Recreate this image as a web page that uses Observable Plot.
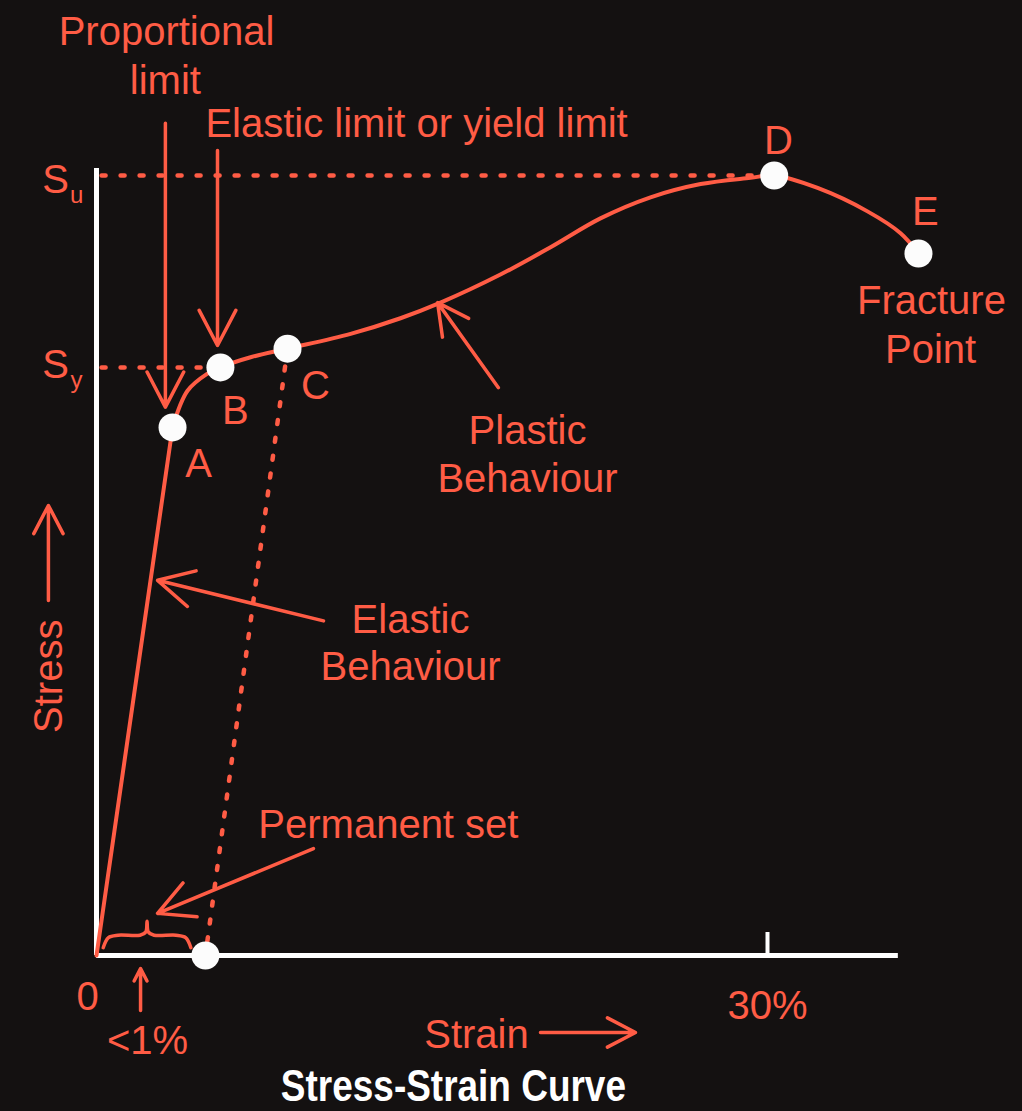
<!DOCTYPE html>
<html>
<head>
<meta charset="utf-8">
<script src="https://cdn.jsdelivr.net/npm/d3@7"></script>
<script src="https://cdn.jsdelivr.net/npm/@observablehq/plot@0.6"></script>
<style>
  html, body { margin: 0; padding: 0; background: #141111; }
  #chart svg { display: block; }
  .title {
    width: 1022px; height: 50px; line-height: 48px; box-sizing: border-box;
    padding-right: 116px; text-align: center; overflow: visible;
    font: bold 44px "Liberation Sans", Arial, sans-serif; color: #fff;
  }
  .title span { display: inline-block; transform: scaleX(0.84); }
</style>
</head>
<body>
<div id="chart"></div>
<div class="title"><span>Stress-Strain Curve</span></div>
<script>
// Stress (normalised so that the ultimate strength Su = 100) against strain in %.
const curveStrain = [0, 3.40, 4.07, 4.96, 5.54, 6.89, 8.54, 11.36, 13.59, 15.38, 18.06, 20.30, 22.53, 24.77, 27.01, 29.24, 30.3, 32.24, 34.47, 35.95, 36.75];
const curveStress = [0, 67.7, 72.4, 74.6, 75.4, 76.7, 77.8, 79.7, 81.7, 83.7, 87.3, 90.8, 94.5, 97.2, 98.9, 99.7, 100, 98.4, 95.4, 92.6, 90.0];

// Named points on the curve
const pointNames  = ["A", "B", "C", "D", "E"];
const pointStrain = [3.40, 5.54, 8.54, 30.3, 36.75];
const pointStress = [67.7, 75.4, 77.8, 100, 90.0];

const yieldStress = 75.4;     // Sy
const ultimateStress = 100;   // Su
const permanentSet = 4.87;    // strain left after unloading from C
const strainTicks = [30];
const strainTickLabels = ["30%"];
const axisMaxStrain = 35.85;
const axisMaxStress = 100.9;

const RED = "#ff5c45";
const FONT = "Liberation Sans, Arial, Helvetica, sans-serif";

const curve = curveStrain.map((x, i) => ({x, y: curveStress[i]}));
const elastic = curve.slice(0, 2);
const plastic = curve.slice(1);
const points = pointNames.map((name, i) => ({name, x: pointStrain[i], y: pointStress[i]}));
const P = Object.fromEntries(points.map(d => [d.name, d]));

// curly brace spanning the permanent set along the strain axis
function brace(x0, x1, yb) {
  const w = x1 - x0;
  const shape = [[0, 0], [0.06, 1.3], [0.17, 1.6], [0.42, 1.6], [0.485, 2.0], [0.5, 3.4], [0.515, 2.0], [0.58, 1.6], [0.83, 1.6], [0.94, 1.3], [1, 0]];
  return shape.map(([t, h]) => ({x: x0 + t * w, y: yb + h}));
}
const braceData = brace(0.3, permanentSet - 0.65, 1.0);

// annotation arrows, in strain/stress units
const arrows = [
  {x1: 3.08, y1: 106.7, x2: 3.08, y2: 70.3},   // proportional limit
  {x1: 5.41, y1: 103.2, x2: 5.41, y2: 78.2},   // elastic limit
  {x1: 17.97, y1: 72.8, x2: 15.25, y2: 83.7},  // plastic behaviour
  {x1: 10.15, y1: 42.9, x2: 2.73, y2: 48.1},   // elastic behaviour
  {x1: 9.70, y1: 13.7, x2: 2.73, y2: 5.4},     // permanent set
  {x1: 1.97, y1: -7.05, x2: 1.97, y2: -1.67},  // <1%
  {x1: -2.15, y1: 45.5, x2: -2.15, y2: 57.7},  // stress direction
  {x1: 19.85, y1: -9.87, x2: 24.10, y2: -9.87} // strain direction
];

// centred text labels; the anchor point is the baseline
const labels = [
  {text: "Proportional", x: 3.13, y: 116.7},
  {text: "limit", x: 3.08, y: 110.5},
  {text: "D", x: 30.49, y: 102.8},
  {text: "E", x: 37.06, y: 93.6},
  {text: "Fracture", x: 37.33, y: 82.3},
  {text: "Point", x: 37.29, y: 76.0},
  {text: "A", x: 4.56, y: 61.3},
  {text: "B", x: 6.21, y: 68.2},
  {text: "C", x: 9.79, y: 71.4},
  {text: "S", x: -1.83, y: 97.8},
  {text: "S", x: -1.83, y: 74.0},
  {text: "Elastic", x: 14.04, y: 41.3},
  {text: "Behaviour", x: 14.04, y: 35.3},
  {text: "Plastic", x: 19.27, y: 65.6},
  {text: "Behaviour", x: 19.27, y: 59.4},
  {text: "Permanent set", x: 13.05, y: 15.1},
  {text: "0", x: -0.40, y: -7.05},
  {text: "<1%", x: 2.28, y: -12.6},
  {text: "Strain", x: 16.99, y: -11.8}
];
// left-aligned label
const startLabels = [
  {text: "Elastic limit or yield limit", x: 4.87, y: 104.9}
];
const subscripts = [
  {text: "u", x: -0.89, y: 96.5},
  {text: "y", x: -0.89, y: 72.8}
];

const chart = Plot.plot({
  width: 1022,
  height: 1061,
  marginLeft: 96,
  marginRight: 120.8,
  marginTop: 175,
  marginBottom: 106,
  x: {domain: [0, 36], axis: null},
  y: {domain: [0, 100], axis: null},
  style: {background: "transparent", color: RED, fontFamily: FONT},
  marks: [
    // axes
    Plot.ruleX([0], {y1: 0, y2: axisMaxStress, stroke: "#fff", strokeWidth: 5}),
    Plot.ruleY([0], {x1: 0, x2: axisMaxStrain, stroke: "#fff", strokeWidth: 5}),
    Plot.ruleX(strainTicks, {y1: 0, y2: 2.95, stroke: "#fff", strokeWidth: 4}),
    Plot.text(strainTicks, {x: d => d, y: -8.1, text: (d, i) => strainTickLabels[i], fill: RED, fontSize: 40, lineAnchor: "bottom"}),
    // Su and Sy guides
    Plot.ruleY([ultimateStress], {x1: 0.25, x2: P.D.x, stroke: RED, strokeWidth: 4.5, strokeDasharray: "4,15", strokeLinecap: "round"}),
    Plot.ruleY([yieldStress], {x1: 0.25, x2: P.B.x, stroke: RED, strokeWidth: 4.5, strokeDasharray: "4,15", strokeLinecap: "round"}),
    // unloading line from C, parallel to the elastic line
    Plot.link([P.C], {x1: "x", y1: "y", x2: permanentSet, y2: 0, stroke: RED, strokeWidth: 4.5, strokeDasharray: "4,14", strokeLinecap: "round"}),
    // the curve
    Plot.line(elastic, {x: "x", y: "y", stroke: RED, strokeWidth: 4}),
    Plot.line(plastic, {x: "x", y: "y", stroke: RED, strokeWidth: 4, curve: "catmull-rom"}),
    // brace marking the permanent set
    Plot.line(braceData, {x: "x", y: "y", stroke: RED, strokeWidth: 3.5, curve: "catmull-rom"}),
    // annotation arrows
    Plot.arrow(arrows, {x1: "x1", y1: "y1", x2: "x2", y2: "y2", stroke: RED, strokeWidth: 3.5, headLength: 17, headAngle: 55}),
    // points
    Plot.dot(points, {x: "x", y: "y", r: 14, fill: "#fcfcfc"}),
    Plot.dot([permanentSet], {x: d => d, y: 0, r: 14, fill: "#fcfcfc"}),
    // labels
    Plot.text(labels, {x: "x", y: "y", text: "text", textAnchor: "middle", fill: RED, fontSize: 40, lineAnchor: "bottom"}),
    Plot.text(startLabels, {x: "x", y: "y", text: "text", textAnchor: "start", fill: RED, fontSize: 40, lineAnchor: "bottom"}),
    Plot.text(subscripts, {x: "x", y: "y", text: "text", fill: RED, fontSize: 24, lineAnchor: "bottom"}),
    Plot.text(["Stress"], {x: -2.10, y: 35.8, text: d => d, rotate: -90, fill: RED, fontSize: 40})
  ]
});
document.getElementById("chart").append(chart);
</script>
</body>
</html>
